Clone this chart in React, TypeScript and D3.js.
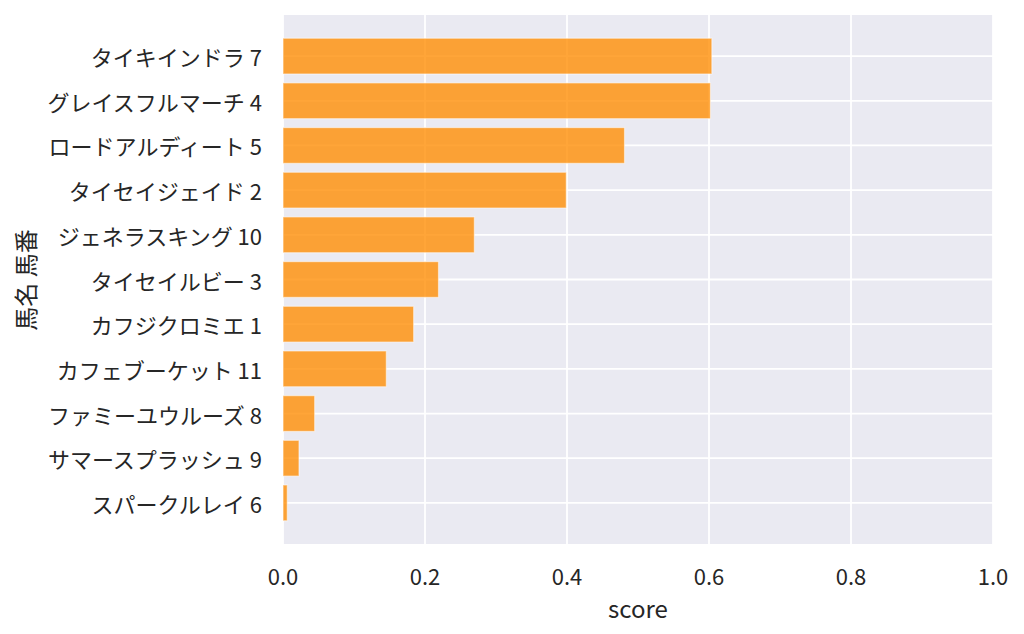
import * as React from 'react'
import * as d3 from 'd3'

const width = 1024
const height = 634
const margin = { top: 15, right: 31, bottom: 90, left: 283 }
const bg = '#eaeaf2'
const barColor = '#ff8c00'
const textColor = '#262626'
const font = '"Noto Sans CJK JP", "Noto Sans", sans-serif'
const tickSize = 22
const labelSize = 24

const horses = [
  'タイキインドラ 7',
  'グレイスフルマーチ 4',
  'ロードアルディート 5',
  'タイセイジェイド 2',
  'ジェネラスキング 10',
  'タイセイルビー 3',
  'カフジクロミエ 1',
  'カフェブーケット 11',
  'ファミーユウルーズ 8',
  'サマースプラッシュ 9',
  'スパークルレイ 6',
]
const scores = [0.604, 0.602, 0.481, 0.399, 0.2695, 0.219, 0.184, 0.1455, 0.0446, 0.0225, 0.006]
const xTicks = [0, 0.2, 0.4, 0.6, 0.8, 1.0]

const App = () => {
  const innerW = width - margin.left - margin.right
  const innerH = height - margin.top - margin.bottom

  const xScale = d3.scaleLinear().domain([0, 1]).range([0, innerW])
  const yScale = d3
    .scaleBand()
    .domain(horses)
    .range([0, innerH])
    .paddingInner(0)
    .paddingOuter(0.42)
  const step = yScale.bandwidth()
  const barH = step * 0.8

  return (
    <svg width={width} height={height} style={{ position: 'absolute', left: 0, top: 0 }}>
      <g transform={`translate(${margin.left}, ${margin.top})`}>
        <rect width={innerW} height={innerH} fill={bg} />
        {xTicks.map(t => (
          <line key={'gx' + t} x1={xScale(t)} x2={xScale(t)} y1={0} y2={innerH} stroke="#fff" strokeWidth={1.8} />
        ))}
        {horses.map(h => (
          <line
            key={'gy' + h}
            x1={0}
            x2={innerW}
            y1={yScale(h)! + step / 2}
            y2={yScale(h)! + step / 2}
            stroke="#fff"
            strokeWidth={1.8}
          />
        ))}
        {horses.map((h, i) => (
          <rect
            key={'bar' + h}
            x={xScale(0)}
            y={yScale(h)! + (step - barH) / 2}
            width={xScale(scores[i]) - xScale(0)}
            height={barH}
            fill={barColor}
            fillOpacity={0.78}
            stroke="#fff"
            strokeOpacity={0.5}
            strokeWidth={1.2}
          />
        ))}
        {horses.map(h => (
          <text
            key={'yl' + h}
            x={-21}
            y={yScale(h)! + step / 2}
            textAnchor="end"
            dominantBaseline="central"
            fontFamily={font}
            fontSize={tickSize}
            fill={textColor}
          >
            {h}
          </text>
        ))}
        {xTicks.map(t => (
          <text
            key={'xl' + t}
            x={xScale(t)}
            y={innerH + 31}
            textAnchor="middle"
            dominantBaseline="central"
            fontFamily={font}
            fontSize={tickSize}
            fill={textColor}
          >
            {t.toFixed(1)}
          </text>
        ))}
        <text
          x={innerW / 2}
          y={innerH + 63}
          textAnchor="middle"
          dominantBaseline="central"
          fontFamily={font}
          fontSize={labelSize}
          fill={textColor}
        >
          score
        </text>
        <text
          transform={`translate(${24 - margin.left}, ${280 - margin.top}) rotate(-90)`}
          textAnchor="middle"
          dominantBaseline="central"
          fontFamily={font}
          fontSize={labelSize}
          fill={textColor}
        >
          馬名 馬番
        </text>
      </g>
    </svg>
  )
}

export default App
